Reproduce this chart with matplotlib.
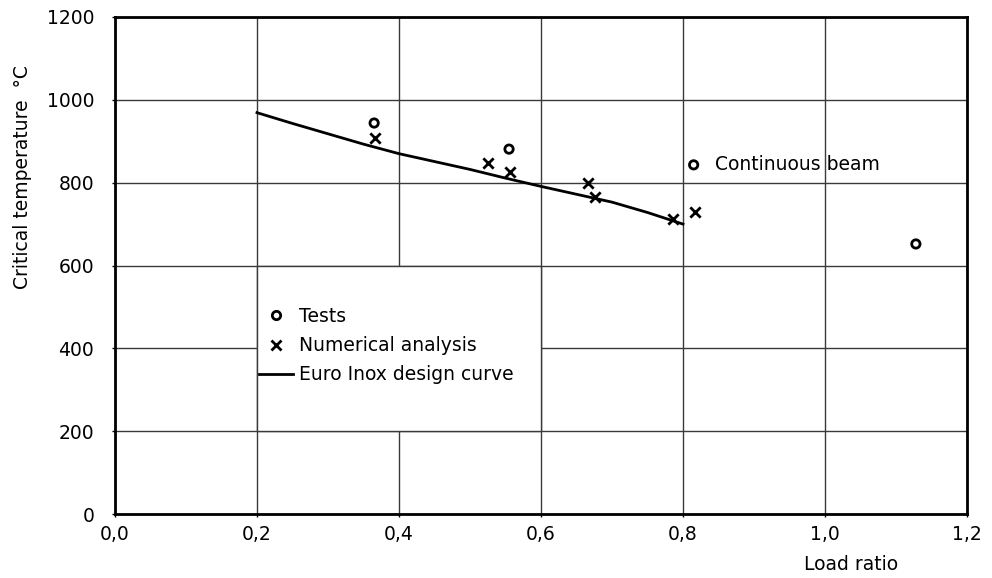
import matplotlib
matplotlib.use('Agg')
import matplotlib.pyplot as plt
from matplotlib.patches import Rectangle
from matplotlib.lines import Line2D

plt.rcParams['font.family'] = ['DejaVu Sans']

# Data
test_x = [0.365, 0.555, 1.128]
test_y = [944, 881, 652]
beam_x = [0.815]
beam_y = [843]
num_x = [0.366, 0.525, 0.556, 0.666, 0.676, 0.786, 0.817]
num_y = [908, 847, 826, 799, 765, 712, 729]
curve_x = [0.2, 0.25, 0.3, 0.35, 0.4, 0.45, 0.5, 0.55, 0.6, 0.65, 0.7, 0.75, 0.8]
curve_y = [969, 943, 918, 893, 870, 851, 832, 811, 791, 772, 753, 728, 700]

x_ticks = [0.0, 0.2, 0.4, 0.6, 0.8, 1.0, 1.2]
x_tick_labels = ['0,0', '0,2', '0,4', '0,6', '0,8', '1,0', '1,2']
y_ticks = [0, 200, 400, 600, 800, 1000, 1200]

GRID_COLOR = '#3a3a3a'
FS = 13.5

fig = plt.figure(figsize=(9.92, 5.78), dpi=100)
ax = fig.add_axes([0.1159, 0.1107, 0.8589, 0.8599])

ax.set_xlim(0, 1.2)
ax.set_ylim(0, 1200)
ax.set_xticks(x_ticks)
ax.set_xticklabels(x_tick_labels)
ax.set_yticks(y_ticks)
ax.tick_params(labelsize=FS, length=2, width=1, colors='black')
ax.tick_params(axis='y', pad=13)
ax.tick_params(axis='x', pad=6)
ax.set_axisbelow(True)
ax.grid(True, color=GRID_COLOR, linewidth=1.0)
for sp in ax.spines.values():
    sp.set_linewidth(2.0)

# white legend panel covering the inner grid cells
ax.add_patch(Rectangle((0.2, 200), 0.4, 400, facecolor='white',
                       edgecolor=GRID_COLOR, linewidth=1.0, zorder=1))

ax.plot(curve_x, curve_y, color='black', linewidth=2.0, zorder=3)
ax.scatter(test_x + beam_x, test_y + beam_y, marker='o', s=36,
           facecolors='none', edgecolors='black', linewidths=2.0, zorder=4)
ax.scatter(num_x, num_y, marker='x', s=55, color='black',
           linewidths=2.0, zorder=4)

ax.text(0.845, 843, 'Continuous beam', fontsize=FS, va='center', ha='left', zorder=5)

handles = [
    Line2D([], [], linestyle='none', marker='o', markersize=6,
           markerfacecolor='none', markeredgecolor='black', markeredgewidth=2.0),
    Line2D([], [], linestyle='none', marker='x', markersize=7.5,
           color='black', markeredgewidth=2.0),
    Line2D([], [], color='black', linewidth=2.0),
]
labels = ['Tests', 'Numerical analysis', 'Euro Inox design curve']
leg = ax.legend(handles, labels, loc='upper left', frameon=False, fontsize=FS,
                bbox_to_anchor=(0.169, 0.417), handlelength=1.8,
                handletextpad=0.32, labelspacing=0.55, borderaxespad=0,
                borderpad=0)
leg.set_zorder(6)

fig.text(0.858, 0.0225, 'Load ratio', fontsize=FS, ha='center', va='center')
fig.text(0.023, 0.694, 'Critical temperature  \u00b0C', fontsize=FS,
         ha='center', va='center', rotation=90)

fig.savefig('out.png', dpi=100)
